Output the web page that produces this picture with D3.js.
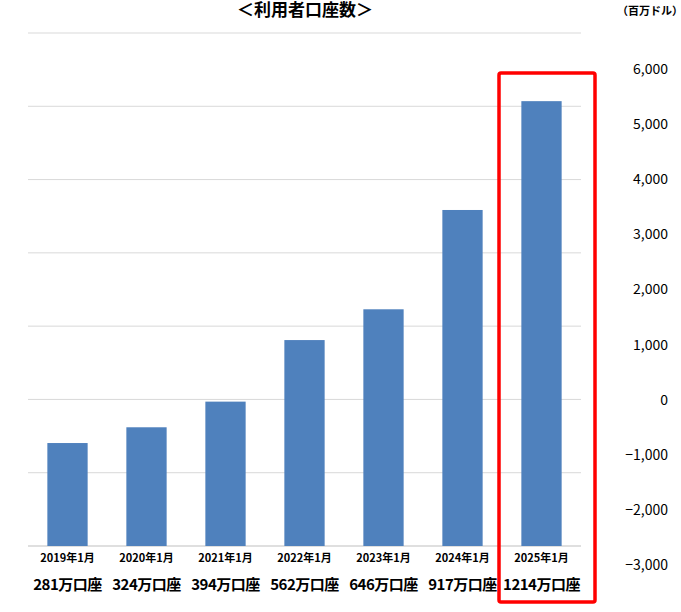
<!DOCTYPE html>
<html><head><meta charset="utf-8">
<script src="https://cdn.jsdelivr.net/npm/d3@7"></script>
<style>body{margin:0;background:#fff}</style></head>
<body><svg id="c" width="681" height="612"></svg>
<script>
const years=["2019年1月","2020年1月","2021年1月","2022年1月","2023年1月","2024年1月","2025年1月"];
const accounts=[281,324,394,562,646,917,1214];
const accountLabels=["281万口座","324万口座","394万口座","562万口座","646万口座","917万口座","1214万口座"];
const gridTicks=[0,200,400,600,800,1000,1200,1400];
const rightTicks=[6000,5000,4000,3000,2000,1000,0,-1000,-2000,-3000];
const svg=d3.select("#c");
const font="'Noto Sans CJK JP','Noto Sans',sans-serif";
const x=d3.scaleBand().domain(years).range([28,581]).paddingInner(0.49).paddingOuter(0.245);
const y=d3.scaleLinear().domain([0,1400]).range([546,33]);
const yr=d3.scaleLinear().domain([-3000,6000]).range([565,69]);
svg.append("g").selectAll("line").data(gridTicks).join("line")
 .attr("x1",28).attr("x2",581).attr("y1",d=>y(d)).attr("y2",d=>y(d))
 .attr("stroke",d=>d===0?"#bfbfbf":"#d9d9d9").attr("stroke-width",1);
svg.append("g").selectAll("rect").data(accounts).join("rect")
 .attr("x",(d,i)=>x(years[i])).attr("width",x.bandwidth())
 .attr("y",d=>y(d)).attr("height",d=>y(0)-y(d)).attr("fill","#4f81bd");
svg.append("g").selectAll("text").data(years).join("text")
 .attr("x",d=>x(d)+x.bandwidth()/2).attr("y",562).attr("text-anchor","middle")
 .attr("font-size",11).attr("font-weight","bold").attr("font-family",font).text(d=>d);
svg.append("g").selectAll("text").data(accountLabels).join("text")
 .attr("x",(d,i)=>x(years[i])+x.bandwidth()/2).attr("y",590).attr("text-anchor","middle")
 .attr("font-size",15).attr("letter-spacing",-0.5).attr("font-weight","bold").attr("font-family",font).text(d=>d);
svg.append("g").selectAll("text").data(rightTicks).join("text")
 .attr("x",668).attr("y",d=>yr(d)+5).attr("text-anchor","end")
 .attr("font-size",14).attr("font-family",font).text(d=>d3.format(",")(d));
svg.append("text").attr("x",305).attr("y",16).attr("text-anchor","middle")
 .attr("font-size",17).attr("font-weight","bold").attr("font-family",font).text("＜利用者口座数＞");
svg.append("text").attr("x",617).attr("y",15)
 .attr("font-size",11).attr("font-weight","bold").attr("font-family",font).text("（百万ドル）");
svg.append("rect").attr("x",499).attr("y",73).attr("width",96).attr("height",529)
 .attr("fill","none").attr("stroke","#ff0000").attr("stroke-width",3.5).attr("rx",2);
</script></body></html>
